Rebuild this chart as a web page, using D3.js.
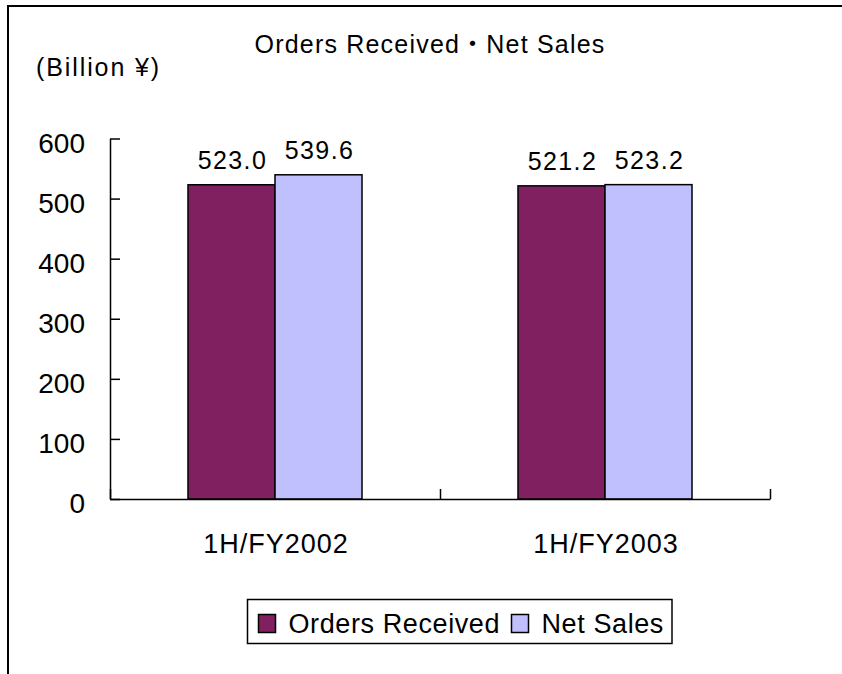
<!DOCTYPE html>
<html>
<head>
<meta charset="utf-8">
<script src="https://cdn.jsdelivr.net/npm/d3@7"></script>
<style>
html,body{margin:0;padding:0;background:#fff;}
svg{display:block;}
text{font-family:"Liberation Sans",Arial,"Noto Sans CJK JP",sans-serif;fill:#000;}
</style>
</head>
<body>
<svg id="chart" width="842" height="674"></svg>
<script>
const categories = ["1H/FY2002", "1H/FY2003"];
const seriesNames = ["Orders Received", "Net Sales"];
const ordersReceived = [523.0, 521.2];
const netSales = [539.6, 523.2];
const yTicks = [0, 100, 200, 300, 400, 500, 600];
const title = "Orders Received\u30FBNet Sales";
const unitLabel = "(Billion \u00A5)";
const colors = ["#802060", "#c0c0ff"];

const series = [ordersReceived, netSales];
const svg = d3.select("#chart");

// frame
svg.append("path").attr("d", "M8,674V6H842").attr("fill", "none")
  .attr("stroke", "#000").attr("stroke-width", 2);

const x0 = 110, x1 = 770, yBottom = 499, yTop = 138.5;
const x = d3.scaleBand().domain(categories).range([x0, x1])
  .paddingInner(0.4727).paddingOuter(0.4727 / 2);
const xs = d3.scaleBand().domain(seriesNames).range([0, x.bandwidth()]);
const y = d3.scaleLinear().domain([0, 600]).range([yBottom, yTop]);

// title
svg.append("text").attr("x", 430).attr("y", 53).attr("text-anchor", "middle")
  .style("font-size", "25px").style("letter-spacing", "1.2px").text(title);
svg.append("text").attr("x", 36).attr("y", 76)
  .style("font-size", "25px").style("letter-spacing", "1.9px").text(unitLabel);

// bars
categories.forEach((c, i) => {
  series.forEach((s, j) => {
    svg.append("rect")
      .attr("x", x(c) + xs(seriesNames[j]))
      .attr("y", y(s[i]))
      .attr("width", xs.bandwidth())
      .attr("height", y(0) - y(s[i]))
      .attr("fill", colors[j]).attr("stroke", "#000").attr("stroke-width", 1.5);
    svg.append("text")
      .attr("x", x(c) + xs(seriesNames[j]) + xs.bandwidth() / 2 + 1)
      .attr("y", y(s[i]) - 15.5)
      .attr("text-anchor", "middle")
      .style("font-size", "25px").style("letter-spacing", "1.4px")
      .text(s[i].toFixed(1));
  });
});

// y axis
const yAxis = d3.axisLeft(y).tickValues(yTicks).tickSizeInner(-10).tickSizeOuter(0).tickPadding(25);
const gy = svg.append("g").attr("transform", `translate(${x0},0)`).call(yAxis);
gy.select(".domain").attr("stroke", "#000").attr("stroke-width", 1.5);
gy.selectAll(".tick line").attr("stroke", "#000").attr("stroke-width", 1.5);
gy.selectAll(".tick text").attr("dy", null).attr("y", 13.5)
  .attr("font-family", null).attr("font-size", null)
  .style("font-size", "28px").attr("fill", "#000");

// x axis line and category boundary ticks
const bounds = categories.map(c => x(c) - x.step() * x.paddingInner() / 2);
bounds.push(x1);
const xb = d3.scaleLinear().domain([x0, x1]).range([x0, x1]);
const xAxis = d3.axisBottom(xb).tickValues(bounds).tickSizeInner(-10).tickSizeOuter(0).tickFormat("");
const gx = svg.append("g").attr("transform", `translate(0,${yBottom})`).call(xAxis);
gx.select(".domain").attr("stroke", "#000").attr("stroke-width", 1.5);
gx.selectAll(".tick line").attr("stroke", "#000").attr("stroke-width", 1.5);

// category labels
svg.selectAll(".cat").data(categories).enter().append("text")
  .attr("x", d => x(d) + x.bandwidth() / 2 + 1).attr("y", 553)
  .attr("text-anchor", "middle")
  .style("font-size", "27px").style("letter-spacing", "1px")
  .text(d => d);

// legend
const lg = svg.append("g");
lg.append("rect").attr("x", 247.5).attr("y", 599.5).attr("width", 424.5).attr("height", 44)
  .attr("fill", "#fff").attr("stroke", "#000").attr("stroke-width", 1.5);
const legendX = [258.5, 511.5];
seriesNames.forEach((n, j) => {
  lg.append("rect").attr("x", legendX[j]).attr("y", 614.5).attr("width", 17).attr("height", 18)
    .attr("fill", colors[j]).attr("stroke", "#000").attr("stroke-width", 1.5);
  lg.append("text").attr("x", legendX[j] + 30).attr("y", 632.5)
    .style("font-size", "27px").style("letter-spacing", "0.6px").text(n);
});
</script>
</body>
</html>
